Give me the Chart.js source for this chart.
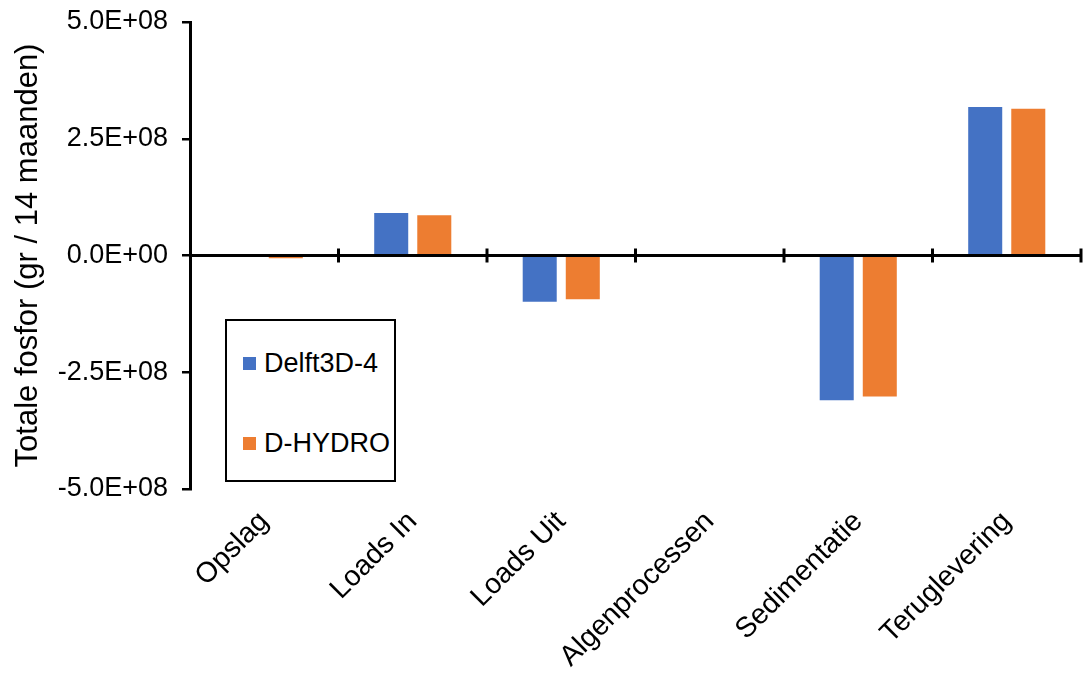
<!DOCTYPE html>
<html>
<head>
<meta charset="utf-8">
<script src="https://cdn.jsdelivr.net/npm/chart.js@4.4.1/dist/chart.umd.min.js"></script>
<style>
html,body{margin:0;padding:0;background:#fff;}
#wrap{position:relative;width:1090px;height:677px;}
#legend{position:absolute;left:225px;top:319px;width:167px;height:159px;border:2px solid #000;background:#fff;font-family:"Liberation Sans",Arial,sans-serif;font-size:27px;color:#000;}
.item{position:absolute;left:16px;display:flex;align-items:center;height:30px;line-height:30px;white-space:nowrap;}
.sw{width:13px;height:13px;margin-right:8px;flex:none;}
</style>
</head>
<body>
<div id="wrap"><canvas id="c"></canvas><div id="legend"></div></div>
<script>
const categories = ['Opslag', 'Loads In', 'Loads Uit', 'Algenprocessen', 'Sedimentatie', 'Teruglevering'];
const seriesNames = ['Delft3D-4', 'D-HYDRO'];
const delft3d4 = [0, 9.1e7, -9.9e7, 0, -3.1e8, 3.18e8];
const dhydro = [-6e6, 8.6e7, -9.35e7, 0, -3.02e8, 3.14e8];
const yTicks = [-5e8, -2.5e8, 0, 2.5e8, 5e8];
const yTitle = 'Totale fosfor (gr / 14 maanden)';
const colors = ['#4472C4', '#ED7D31'];

const FONT = '"Liberation Sans", Arial, sans-serif';
Chart.defaults.font.family = FONT;
Chart.defaults.color = '#000';

function fmt(v) {
  const s = Number(v).toExponential(1);
  const parts = s.split('e');
  const n = parseInt(parts[1], 10);
  return parts[0] + 'E' + (n < 0 ? '-' : '+') + String(Math.abs(n)).padStart(2, '0');
}

const zeroAxis = {
  id: 'zeroAxis',
  afterDatasetsDraw(chart) {
    const x = chart.scales.x, y = chart.scales.y, ctx = chart.ctx;
    const area = chart.chartArea;
    const y0 = y.getPixelForValue(0);
    ctx.save();
    ctx.strokeStyle = '#000';
    ctx.lineWidth = 3;
    ctx.beginPath();
    ctx.moveTo(area.left, y0);
    ctx.lineTo(area.right + 1, y0);
    ctx.stroke();
    for (let i = 0; i < categories.length; i++) {
      const px = i < categories.length - 1
        ? (x.getPixelForValue(i) + x.getPixelForValue(i + 1)) / 2
        : area.right;
      ctx.beginPath();
      ctx.moveTo(px, y0 - 7);
      ctx.lineTo(px, y0 + 7);
      ctx.stroke();
    }
    ctx.restore();
  }
};

const datasets = [delft3d4, dhydro].map((d, i) => ({
  label: seriesNames[i],
  data: d,
  backgroundColor: colors[i],
  borderWidth: 0,
  categoryPercentage: 0.58,
  barPercentage: 0.79
}));

const chart = new Chart(document.getElementById('c'), {
  type: 'bar',
  data: { labels: categories, datasets: datasets },
  plugins: [zeroAxis],
  options: {
    responsive: true,
    maintainAspectRatio: false,
    animation: false,
    layout: { padding: { left: 0, top: 22, right: 9, bottom: 0 } },
    plugins: { legend: { display: false }, tooltip: { enabled: false } },
    scales: {
      x: {
        offset: true,
        grid: { display: false },
        border: { display: false },
        ticks: {
          minRotation: 45, maxRotation: 45, autoSkip: false,
          padding: 8, color: '#000', font: { size: 28.5 }
        },
        afterFit(s) { s.height = 188; }
      },
      y: {
        min: -5e8, max: 5e8,
        afterBuildTicks(s) { s.ticks = yTicks.map(v => ({ value: v })); },
        grid: { drawOnChartArea: false, color: '#000', tickColor: '#000', tickLength: 8, lineWidth: 2.5 },
        border: { color: '#000', width: 3 },
        ticks: { color: '#000', padding: 14, font: { size: 27 }, callback: v => fmt(v) },
        title: { display: true, text: yTitle, color: '#000', font: { size: 31 }, padding: { top: 10, bottom: 0 } },
        afterFit(s) { s.width = 190; s.paddingTop = 0; s.paddingBottom = 0; }
      }
    }
  }
});

const legend = document.getElementById('legend');
const itemTops = [27, 107];
seriesNames.forEach((name, i) => {
  const it = document.createElement('div');
  it.className = 'item';
  it.style.top = itemTops[i] + 'px';
  const sw = document.createElement('span');
  sw.className = 'sw';
  sw.style.background = colors[i];
  const tx = document.createElement('span');
  tx.textContent = name;
  it.appendChild(sw);
  it.appendChild(tx);
  legend.appendChild(it);
});
</script>
</body>
</html>
